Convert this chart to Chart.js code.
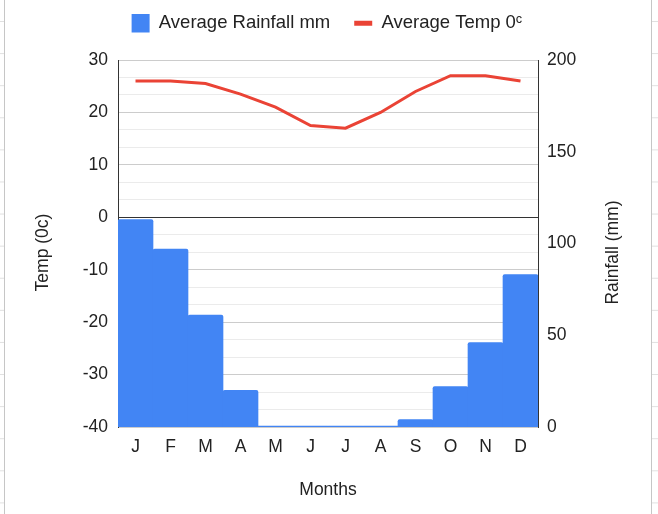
<!DOCTYPE html>
<html>
<head>
<meta charset="utf-8">
<script src="https://cdn.jsdelivr.net/npm/chart.js@4.4.1/dist/chart.umd.min.js"></script>
<style>
  html, body { margin: 0; padding: 0; background: #fff; }
  #wrap { position: relative; width: 658px; height: 514px; overflow: hidden; }
  /* spreadsheet cell borders peeking out at both sides */
  .cells {
    position: absolute; top: 0; height: 514px;
    background-image: linear-gradient(#e0e0e0 0 1px, transparent 1px);
    background-size: 100% 32.1px;
    background-position: 0 21px;
  }
  #cellsL { left: 0; width: 4px; border-right: 1px solid #c6c6c6; }
  #cellsR { left: 651px; width: 7px; border-left: 1px solid #c6c6c6; }
  canvas { position: absolute; left: 0; top: 0; }
</style>
</head>
<body>
<div id="wrap">
  <div class="cells" id="cellsL"></div>
  <div class="cells" id="cellsR"></div>
  <canvas id="chart" width="658" height="514"></canvas>
</div>
<script>
// chart values
const months = ['J', 'F', 'M', 'A', 'M', 'J', 'J', 'A', 'S', 'O', 'N', 'D'];
const rainfall = [113, 97, 61, 20, 0, 0, 0, 0, 4, 22, 46, 83];
const temperature = [26, 26, 25.5, 23.5, 21, 17.5, 17, 20, 24, 27, 27, 26];
const tempTicks = [-40, -30, -20, -10, 0, 10, 20, 30];
const rainTicks = [0, 50, 100, 150, 200];

const FONT = "'Liberation Sans', Arial, sans-serif";
Chart.defaults.font.family = FONT;
Chart.defaults.color = '#222';

// major ticks plus two minor gridlines between each pair
function withMinorTicks(majors, parts) {
    const out = [];
    majors.forEach((v, i) => {
        out.push({ value: v, isMajor: true });
        if (i < majors.length - 1) {
            const step = (majors[i + 1] - v) / parts;
            for (let k = 1; k < parts; k++) out.push({ value: v + k * step, isMajor: false });
        }
    });
    return out;
}

// make the legend block a fixed height so the plot starts where it should
const legendHeight = {
    id: 'legendHeight',
    beforeInit(chart) {
        const fit = chart.legend.fit;
        chart.legend.fit = function () {
            fit.call(this);
            this.height = 70;
        };
    }
};

// both vertical titles read bottom-to-top
const sideTitles = {
    id: 'sideTitles',
    afterDraw(chart) {
        const { ctx, chartArea } = chart;
        const midY = (chartArea.top + chartArea.bottom) / 2 + 9;
        ctx.save();
        ctx.font = '17.5px ' + FONT;
        ctx.fillStyle = '#222';
        ctx.textAlign = 'center';
        ctx.textBaseline = 'middle';
        [[chartArea.left - 75, 'Temp (0c)'], [chartArea.right + 75, 'Rainfall (mm)']].forEach(([x, text]) => {
            ctx.save();
            ctx.translate(x, midY);
            ctx.rotate(-Math.PI / 2);
            ctx.fillText(text, 0, 0);
            ctx.restore();
        });
        ctx.restore();
    }
};

new Chart(document.getElementById('chart'), {
    type: 'bar',
    data: {
        labels: months,
        datasets: [
            {
                type: 'bar',
                label: 'Average Rainfall mm',
                data: rainfall,
                yAxisID: 'yRain',
                backgroundColor: '#4285f4',
                barPercentage: 1,
                categoryPercentage: 1,
                borderRadius: 2,
                minBarLength: 1,
                order: 2
            },
            {
                type: 'line',
                label: 'Average Temp 0ᶜ',
                data: temperature,
                yAxisID: 'yTemp',
                borderColor: '#ea4335',
                backgroundColor: '#ea4335',
                borderWidth: 3,
                pointRadius: 0,
                tension: 0,
                order: 1
            }
        ]
    },
    options: {
        responsive: false,
        animation: false,
        layout: { padding: { top: -10, right: 4 } },
        plugins: {
            tooltip: { enabled: false },
            legend: {
                position: 'top',
                labels: {
                    color: '#222',
                    font: { size: 18.5 },
                    usePointStyle: true,
                    pointStyleWidth: 18,
                    padding: 24,
                    generateLabels(chart) {
                        const items = Chart.defaults.plugins.legend.labels.generateLabels(chart);
                        items.sort((a, b) => a.datasetIndex - b.datasetIndex);
                        items.forEach(item => {
                            const ds = chart.data.datasets[item.datasetIndex];
                            if (ds.type === 'line') {
                                item.pointStyle = 'line';
                                item.strokeStyle = ds.borderColor;
                                item.lineWidth = 5;
                            } else {
                                item.pointStyle = 'rect';
                                item.fillStyle = ds.backgroundColor;
                                item.lineWidth = 0;
                            }
                        });
                        return items;
                    }
                }
            }
        },
        scales: {
            x: {
                grid: { display: false },
                border: { display: false },
                ticks: { font: { size: 17.5 }, color: '#222', padding: 2 },
                title: { display: true, text: 'Months', font: { size: 17.5 }, color: '#222', padding: { top: 0, bottom: 13 } },
                afterFit(scale) { scale.height = 87; }
            },
            yTemp: {
                position: 'left',
                min: -40,
                max: 30,
                afterBuildTicks(scale) { scale.ticks = withMinorTicks(tempTicks, 3); },
                ticks: {
                    autoSkip: false,
                    font: { size: 17.5 },
                    color: '#222',
                    padding: 10,
                    callback(value, index, ticks) {
                        return ticks[index].isMajor ? Math.round(value) : '';
                    }
                },
                grid: {
                    drawTicks: false,
                    color(ctx) {
                        if (!ctx.tick) return '#ebebeb';
                        if (Math.abs(ctx.tick.value) < 1e-9) return '#333';
                        return ctx.tick.isMajor ? '#cccccc' : '#ebebeb';
                    }
                },
                border: { display: true, color: '#333' },
                afterFit(scale) { scale.width = 118; }
            },
            yRain: {
                position: 'right',
                min: 0,
                max: 200,
                afterBuildTicks(scale) { scale.ticks = rainTicks.map(v => ({ value: v })); },
                ticks: { autoSkip: false, font: { size: 17.5 }, color: '#222', padding: 9 },
                grid: { display: false, drawTicks: false },
                border: { display: true, color: '#333' },
                afterFit(scale) { scale.width = 116; }
            }
        }
    },
    plugins: [legendHeight, sideTitles]
});
</script>
</body>
</html>
